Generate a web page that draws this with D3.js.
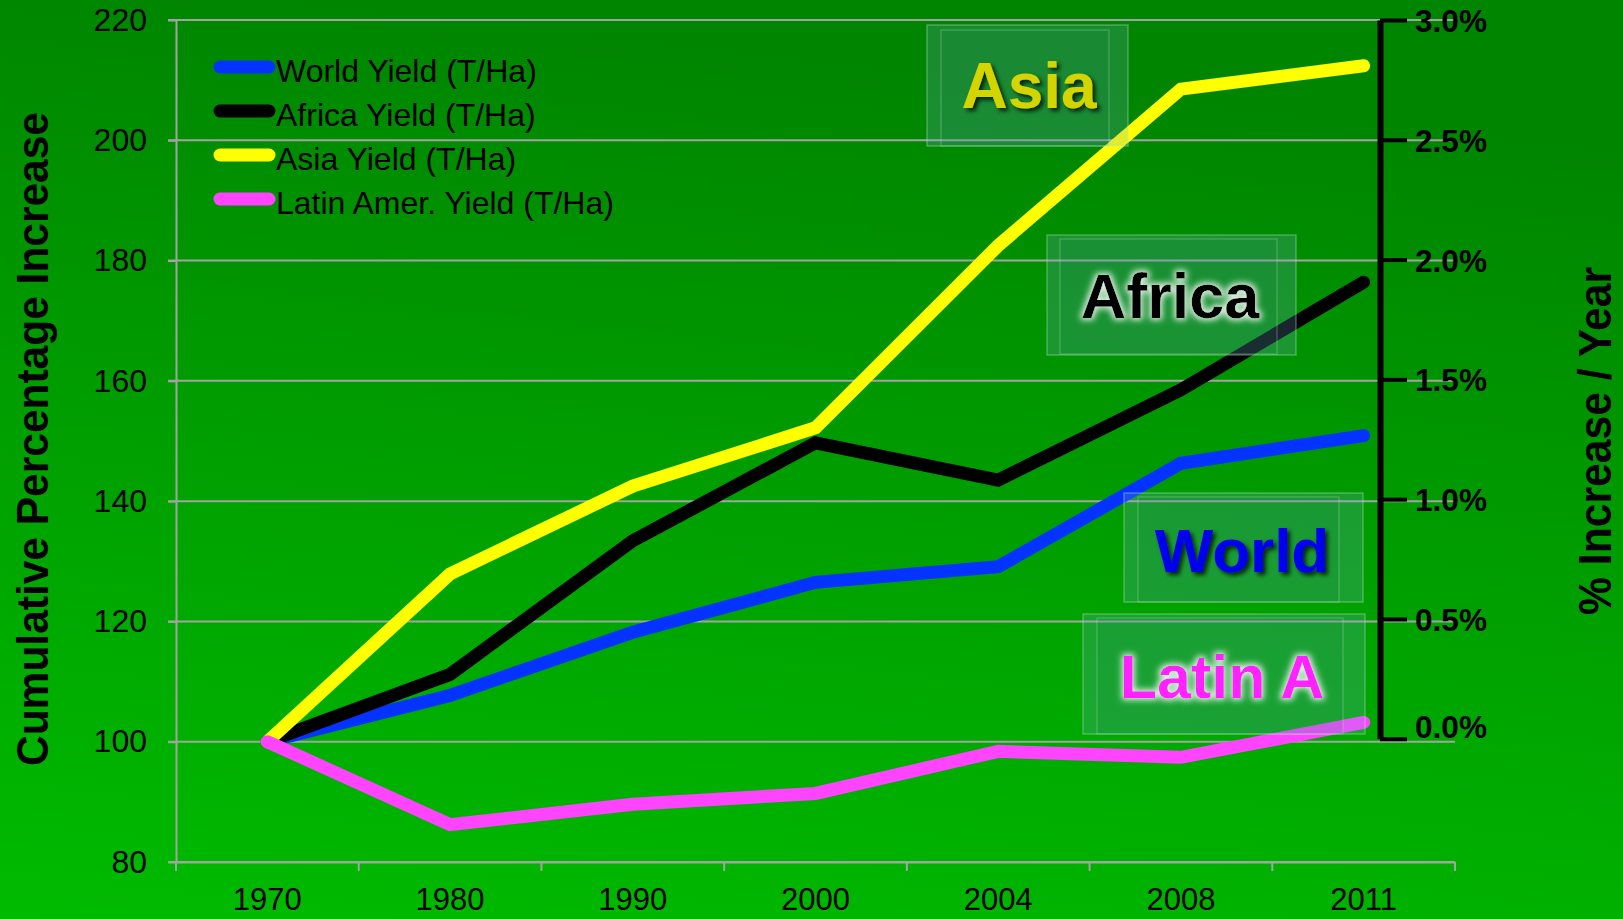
<!DOCTYPE html>
<html>
<head>
<meta charset="utf-8">
<script src="https://cdn.jsdelivr.net/npm/d3@7"></script>
<style>
  html, body { margin: 0; padding: 0; background: #00a000; }
  svg { display: block; }
  text { font-family: "Liberation Sans", Arial, sans-serif; }
</style>
</head>
<body>
<svg id="chart" width="1623" height="919"></svg>
<script>
// ---------------- DATA ----------------
const years = ["1970", "1980", "1990", "2000", "2004", "2008", "2011"];
const worldYield  = [100, 107.7, 118.2, 126.5, 129.1, 146.3, 150.9];
const africaYield = [100, 111.2, 133.4, 149.7, 143.5, 158.5, 176.4];
const asiaYield   = [100, 127.9, 142.5, 152.2, 182.5, 208.5, 212.4];
const latinYield  = [100, 86.2, 89.6, 91.4, 98.4, 97.4, 103.2];
const seriesNames = ["World Yield (T/Ha)", "Africa Yield (T/Ha)", "Asia Yield (T/Ha)", "Latin Amer. Yield (T/Ha)"];
const leftTicks = [80, 100, 120, 140, 160, 180, 200, 220];
const rightTicks = [0, 0.005, 0.01, 0.015, 0.02, 0.025, 0.03];
const regionLabels = ["Asia", "Africa", "World", "Latin A"];
const leftTitle = "Cumulative Percentage Increase";
const rightTitle = "% Increase / Year";

// ---------------- LAYOUT / STYLE ----------------
const W = 1623, H = 919;
const plot = { left: 176, right: 1455, top: 20, bottom: 862 };
const seriesColors = ["#0433ff", "#000000", "#ffff00", "#ff44ff"];
const font = '"Liberation Sans", Arial, sans-serif';

const svg = d3.select("#chart");
const defs = svg.append("defs");

// background gradient
const bg = defs.append("linearGradient").attr("id", "bg")
  .attr("x1", 0.2).attr("y1", 0).attr("x2", 0).attr("y2", 1);
bg.append("stop").attr("offset", "0%").attr("stop-color", "#008500");
bg.append("stop").attr("offset", "100%").attr("stop-color", "#00bb00");

// dark drop shadow filter
const sh = defs.append("filter").attr("id", "shadow")
  .attr("x", "-20%").attr("y", "-30%").attr("width", "140%").attr("height", "160%");
sh.append("feGaussianBlur").attr("in", "SourceAlpha").attr("stdDeviation", 2.2).attr("result", "b");
sh.append("feOffset").attr("in", "b").attr("dx", 3).attr("dy", 3).attr("result", "o");
sh.append("feFlood").attr("flood-color", "#000").attr("flood-opacity", 0.75).attr("result", "f");
sh.append("feComposite").attr("in", "f").attr("in2", "o").attr("operator", "in").attr("result", "s");
const shm = sh.append("feMerge");
shm.append("feMergeNode").attr("in", "s");
shm.append("feMergeNode").attr("in", "SourceGraphic");

// white glow filter
const gl = defs.append("filter").attr("id", "glow")
  .attr("x", "-20%").attr("y", "-30%").attr("width", "140%").attr("height", "160%");
gl.append("feMorphology").attr("in", "SourceAlpha").attr("operator", "dilate").attr("radius", 1.5).attr("result", "d");
gl.append("feGaussianBlur").attr("in", "d").attr("stdDeviation", 3).attr("result", "b");
gl.append("feFlood").attr("flood-color", "#ffffff").attr("flood-opacity", 0.85).attr("result", "f");
gl.append("feComposite").attr("in", "f").attr("in2", "b").attr("operator", "in").attr("result", "g");
const glm = gl.append("feMerge");
glm.append("feMergeNode").attr("in", "g");
glm.append("feMergeNode").attr("in", "SourceGraphic");

svg.append("rect").attr("width", W).attr("height", H).attr("fill", "url(#bg)");

// ---------------- SCALES ----------------
const x = d3.scaleBand().domain(years).range([plot.left, plot.right]).padding(0);
const y = d3.scaleLinear().domain([80, 220]).range([plot.bottom, plot.top]);
const yR = d3.scaleLinear().domain([0, 0.03]).range([y(100) - 3, y(220)]);

// ---------------- GRID ----------------
const gridColor = "#a3a3a3";
svg.append("g").selectAll("line").data(leftTicks).join("line")
  .attr("x1", plot.left - 8).attr("x2", plot.right)
  .attr("y1", d => y(d)).attr("y2", d => y(d))
  .attr("stroke", gridColor).attr("stroke-width", 2);

// left axis
const gL = svg.append("g").attr("transform", `translate(${plot.left},0)`)
  .call(d3.axisLeft(y).tickValues(leftTicks).tickSize(8).tickSizeOuter(0).tickPadding(21));
gL.select(".domain").attr("stroke", gridColor).attr("stroke-width", 2);
gL.selectAll(".tick line").attr("stroke", gridColor).attr("stroke-width", 2);
gL.selectAll("text").attr("font-family", font).attr("font-size", 32).attr("fill", "#000");

// bottom axis (labels at band centres)
const gB = svg.append("g").attr("transform", `translate(0,${plot.bottom})`)
  .call(d3.axisBottom(x).tickSize(0).tickPadding(26));
gB.select(".domain").attr("stroke", gridColor).attr("stroke-width", 2);
gB.selectAll("text").attr("font-family", font).attr("font-size", 31).attr("fill", "#000");
// ticks at band boundaries
const boundaries = years.map(d => x(d)).concat([x(years[years.length - 1]) + x.step()]);
svg.append("g").selectAll("line").data(boundaries).join("line")
  .attr("x1", d => d).attr("x2", d => d)
  .attr("y1", plot.bottom).attr("y2", plot.bottom + 9)
  .attr("stroke", gridColor).attr("stroke-width", 2);

// ---------------- LINES ----------------
const allSeries = [worldYield, africaYield, asiaYield, latinYield];
const line = d3.line().x((d, i) => x(years[i]) + x.bandwidth() / 2).y(d => y(d));
svg.append("g").selectAll("path").data(allSeries).join("path")
  .attr("d", d => line(d))
  .attr("fill", "none")
  .attr("stroke", (d, i) => seriesColors[i])
  .attr("stroke-width", 13)
  .attr("stroke-linecap", "round")
  .attr("stroke-linejoin", "miter");

// ---------------- RIGHT AXIS ----------------
const rightX = 1380;
const gR = svg.append("g").attr("transform", `translate(${rightX},0)`)
  .call(d3.axisRight(yR).tickValues(rightTicks).tickFormat(d3.format(".1%")).tickSize(27).tickSizeOuter(0).tickPadding(8));
gR.select(".domain").attr("stroke", "#000").attr("stroke-width", 6);
gR.selectAll(".tick line").attr("stroke", "#000").attr("stroke-width", 4);
gR.selectAll("text")
  .attr("font-family", font).attr("font-size", 32).attr("font-weight", "bold").attr("fill", "#000")
  .attr("textLength", 72).attr("lengthAdjust", "spacingAndGlyphs")
  .attr("dy", d => d === 0 ? "-0.05em" : "0.36em");

// ---------------- LEGEND ----------------
const legend = svg.append("g");
const legY0 = 67, legStep = 44;
const legItems = legend.selectAll("g").data(seriesNames).join("g")
  .attr("transform", (d, i) => `translate(0,${legY0 + i * legStep})`);
legItems.append("line")
  .attr("x1", 220).attr("x2", 269).attr("y1", 0).attr("y2", 0)
  .attr("stroke", (d, i) => seriesColors[i]).attr("stroke-width", 13).attr("stroke-linecap", "round");
legItems.append("text")
  .attr("x", 276).attr("y", 15)
  .attr("font-family", font).attr("font-size", 32).attr("fill", "#000")
  .text(d => d);

// ---------------- REGION LABEL BOXES ----------------
const boxes = [
  { outer: [927, 25, 1128, 146], inner: [941, 30, 1109, 146], cx: 1029, by: 108, fill: "#d4d400", filter: "shadow", size: 64 },
  { outer: [1047, 235, 1296, 355], inner: [1060, 239, 1277, 354], cx: 1170, by: 318, fill: "#000000", filter: "glow", size: 63 },
  { outer: [1124, 493, 1363, 602], inner: [1138, 497, 1339, 602], cx: 1242, by: 572, fill: "#0000ee", filter: "shadow", size: 62 },
  { outer: [1083, 614, 1365, 734], inner: [1097, 618, 1343, 734], cx: 1222, by: 698, fill: "#ff22ff", filter: "glow", size: 61 }
];
const bx = svg.append("g").selectAll("g").data(boxes).join("g");
bx.append("rect")
  .attr("x", d => d.outer[0]).attr("y", d => d.outer[1])
  .attr("width", d => d.outer[2] - d.outer[0]).attr("height", d => d.outer[3] - d.outer[1])
  .attr("fill", "rgba(120,170,220,0.22)").attr("stroke", "rgba(190,230,200,0.35)").attr("stroke-width", 1.5);
bx.append("rect")
  .attr("x", d => d.inner[0]).attr("y", d => d.inner[1])
  .attr("width", d => d.inner[2] - d.inner[0]).attr("height", d => d.inner[3] - d.inner[1])
  .attr("fill", "rgba(20,120,80,0.10)").attr("stroke", "rgba(190,230,200,0.30)").attr("stroke-width", 1.2);
bx.append("text")
  .attr("x", d => d.cx).attr("y", d => d.by)
  .attr("text-anchor", "middle")
  .attr("font-family", font).attr("font-weight", "bold")
  .attr("font-size", d => d.size)
  .attr("fill", d => d.fill)
  .attr("filter", d => `url(#${d.filter})`)
  .text((d, i) => regionLabels[i]);

// ---------------- AXIS TITLES ----------------
svg.append("text")
  .attr("transform", "translate(48,439) rotate(-90)")
  .attr("text-anchor", "middle")
  .attr("font-family", font).attr("font-weight", "bold").attr("font-size", 45).attr("fill", "#000")
  .attr("textLength", 654).attr("lengthAdjust", "spacingAndGlyphs")
  .text(leftTitle);
svg.append("text")
  .attr("transform", "translate(1611,441) rotate(-90)")
  .attr("text-anchor", "middle")
  .attr("font-family", font).attr("font-weight", "bold").attr("font-size", 46).attr("fill", "#000")
  .attr("textLength", 348).attr("lengthAdjust", "spacingAndGlyphs")
  .text(rightTitle);
</script>
</body>
</html>
